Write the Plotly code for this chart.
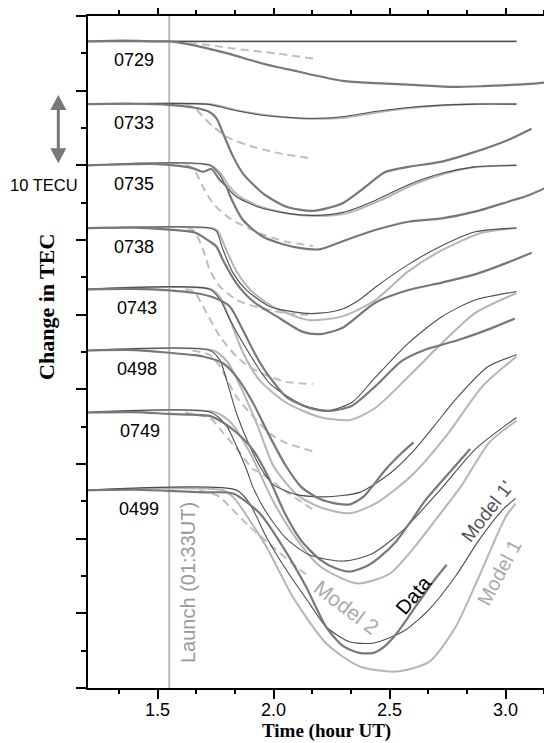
import plotly.graph_objects as go

# ---------------- data (time in hour UT, change in TEC relative to station baseline, TECU)
STATIONS = ["0729", "0733", "0735", "0738", "0743", "0498", "0749", "0499"]
BASELINE = [86.6, 78.2, 70.0, 61.6, 53.4, 45.2, 36.9, 26.5]

# 0729
DATA_T_0729 = [1.2, 1.35, 1.5, 1.55, 1.62, 1.68, 1.75, 1.825, 1.9, 2.01, 2.1, 2.17, 2.3, 2.44, 2.58, 2.7, 2.78, 2.9, 3.01, 3.1, 3.2]
DATA_V_0729 = [0, 0.1, 0, 0, -0.3, -0.7, -1.2, -1.8, -2.5, -3.4, -4.0, -4.5, -5.3, -5.6, -5.8, -6.0, -6.1, -6.0, -5.85, -5.7, -5.4]
M1P_T_0729 = [1.2, 3.047]
M1P_V_0729 = [0, 0]
M1_T_0729 = [1.2, 3.047]
M1_V_0729 = [0, 0]
M2_T_0729 = [1.58, 1.65, 1.75, 1.825, 1.92, 2.01, 2.1, 2.17]
M2_V_0729 = [0, -0.25, -0.6, -0.95, -1.3, -1.6, -2.0, -2.3]

# 0733
DATA_T_0733 = [1.2, 1.4, 1.55, 1.653, 1.675, 1.72, 1.754, 1.782, 1.825, 1.868, 1.954, 2.055, 2.169, 2.295, 2.395, 2.481, 2.581, 2.725, 2.868, 3.011, 3.112]
DATA_V_0733 = [0, 0.05, -0.1, -0.45, -0.58, -1.0, -1.9, -3.9, -7.0, -9.3, -11.95, -13.75, -14.3, -13.3, -11.1, -9.1, -8.4, -7.7, -6.4, -4.8, -3.3]
M1P_T_0733 = [1.2, 1.711, 1.768, 1.84, 1.983, 2.126, 2.2, 2.295, 2.438, 2.581, 2.725, 2.868, 3.047]
M1P_V_0733 = [0, 0, -0.36, -0.9, -1.6, -1.9, -1.9, -1.7, -1.0, -0.45, -0.13, 0, 0]
M1_T_0733 = [1.2, 1.72, 1.78, 1.85, 2.0, 2.14, 2.22, 2.32, 2.46, 2.6, 2.74, 2.88, 3.047]
M1_V_0733 = [0, 0, -0.33, -0.88, -1.6, -1.95, -1.95, -1.75, -1.05, -0.5, -0.15, 0, 0]
M2_T_0733 = [1.62, 1.66, 1.689, 1.739, 1.811, 1.911, 2.026, 2.169]
M2_V_0733 = [0, -0.5, -1.47, -3.0, -4.6, -5.7, -6.6, -7.3]

# 0735
DATA_T_0735 = [1.2, 1.5, 1.6, 1.653, 1.696, 1.732, 1.768, 1.797, 1.811, 1.868, 1.954, 2.083, 2.198, 2.295, 2.438, 2.581, 2.725, 2.868, 3.011, 3.1, 3.183]
DATA_V_0735 = [0, 0.17, -0.1, -0.4, -0.86, -0.5, -1.97, -2.87, -4.0, -7.33, -9.56, -10.9, -11.25, -10.2, -8.67, -7.55, -7.1, -6.2, -4.87, -4.0, -2.87]
M1P_T_0735 = [1.2, 1.725, 1.768, 1.797, 1.84, 1.926, 2.055, 2.169, 2.3, 2.438, 2.581, 2.725, 2.868, 3.047]
M1P_V_0735 = [0, 0, -1.3, -2.86, -4.2, -5.5, -6.4, -6.7, -6.3, -4.7, -2.6, -1.07, -0.2, 0]
M1_T_0735 = [1.2, 1.73, 1.775, 1.805, 1.85, 1.94, 2.07, 2.19, 2.32, 2.46, 2.6, 2.74, 2.88, 3.047]
M1_V_0735 = [0, 0, -1.2, -2.7, -4.1, -5.5, -6.5, -6.8, -6.4, -4.7, -2.6, -1.1, -0.2, 0]
M2_T_0735 = [1.62, 1.653, 1.696, 1.739, 1.811, 1.94, 2.05, 2.169]
M2_V_0735 = [0, -0.4, -2.9, -5.1, -7.1, -9.1, -10.2, -10.8]

# 0738
DATA_T_0738 = [1.2, 1.4, 1.55, 1.66, 1.725, 1.754, 1.782, 1.84, 1.911, 2.012, 2.126, 2.2, 2.295, 2.438, 2.581, 2.725, 2.868, 3.011, 3.112]
DATA_V_0738 = [0, 0.05, -0.2, -0.6, -1.8, -2.5, -4.3, -7.4, -9.8, -11.8, -13.9, -14.2, -13.4, -10.0, -8.3, -7.3, -6.2, -4.6, -3.3]
M1P_T_0738 = [1.2, 1.725, 1.754, 1.782, 1.825, 1.883, 1.983, 2.126, 2.2, 2.3, 2.37, 2.44, 2.58, 2.71, 2.87, 3.047]
M1P_V_0738 = [0, 0, -0.45, -2.9, -6.0, -8.3, -10.5, -11.4, -11.4, -10.8, -9.6, -7.9, -4.9, -2.6, -0.5, 0]
M1_T_0738 = [1.2, 1.73, 1.76, 1.79, 1.84, 1.9, 2.0, 2.15, 2.3, 2.44, 2.58, 2.73, 2.9, 3.047]
M1_V_0738 = [0, 0, -0.4, -2.5, -5.8, -8.3, -10.6, -12.3, -11.8, -9.6, -5.8, -2.9, -0.6, 0]
M2_T_0738 = [1.63, 1.66, 1.696, 1.725, 1.768, 1.84, 1.94, 2.05, 2.169]
M2_V_0738 = [0, -0.45, -2.9, -5.6, -7.8, -9.6, -10.7, -11.4, -11.7]

# 0743
DATA_T_0743 = [1.2, 1.4, 1.55, 1.66, 1.739, 1.811, 1.868, 1.926, 1.97, 2.055, 2.155, 2.24, 2.338, 2.438, 2.553, 2.653, 2.796, 2.94, 3.04]
DATA_V_0743 = [0, 0.05, -0.15, -0.5, -1.07, -2.3, -5.5, -9.0, -11.2, -14.4, -15.9, -16.3, -15.6, -13.0, -9.6, -8.1, -6.8, -5.2, -3.9]
M1P_T_0743 = [1.2, 1.725, 1.77, 1.811, 1.868, 1.983, 2.126, 2.24, 2.34, 2.438, 2.581, 2.725, 2.868, 3.047]
M1P_V_0743 = [0, 0, -1.43, -4.0, -7.2, -12.6, -15.5, -16.2, -15.1, -11.8, -7.2, -3.67, -1.43, -0.3]
M1_T_0743 = [1.2, 1.73, 1.768, 1.811, 1.868, 1.94, 2.055, 2.198, 2.33, 2.438, 2.581, 2.725, 2.868, 3.047]
M1_V_0743 = [0, 0, -1.0, -4.0, -8.5, -12.2, -15.2, -17.1, -17.5, -15.9, -11.7, -7.24, -3.2, -0.5]
M2_T_0743 = [1.62, 1.657, 1.696, 1.768, 1.84, 1.897, 1.983, 2.055, 2.169]
M2_V_0743 = [0, -0.3, -2.3, -6.3, -9.0, -10.4, -11.7, -12.4, -12.7]

# 0498
DATA_T_0498 = [1.2, 1.4, 1.55, 1.65, 1.696, 1.782, 1.84, 1.911, 1.98, 2.05, 2.12, 2.2, 2.27, 2.33, 2.39, 2.481, 2.553, 2.603]
DATA_V_0498 = [0, 0.05, -0.3, -0.6, -0.8, -1.7, -3.5, -7.0, -11.3, -15.3, -18.3, -19.9, -20.5, -20.6, -19.5, -16.0, -13.7, -12.3]
M1P_T_0498 = [1.2, 1.725, 1.768, 1.797, 1.84, 1.897, 1.954, 2.0, 2.1, 2.22, 2.37, 2.5, 2.61, 2.7, 2.78, 2.925, 3.047]
M1P_V_0498 = [0, 0, -1.25, -3.9, -8.4, -12.8, -16.2, -18.0, -19.3, -19.6, -19.0, -16.5, -13.2, -9.8, -6.7, -2.14, -0.58]
M1_T_0498 = [1.2, 1.74, 1.8, 1.86, 1.93, 2.0, 2.1, 2.2, 2.33, 2.45, 2.6, 2.75, 2.9, 3.047]
M1_V_0498 = [0, 0, -1.5, -5.0, -10.0, -15.5, -19.3, -21.0, -21.8, -20.3, -16.6, -11.2, -4.8, -0.8]
M2_T_0498 = [1.65, 1.725, 1.768, 1.84, 1.911, 1.983, 2.055, 2.169]
M2_V_0498 = [0, -0.6, -2.1, -6.2, -8.8, -11.1, -12.4, -13.5]

# 0749
DATA_T_0749 = [1.2, 1.4, 1.55, 1.65, 1.725, 1.782, 1.84, 1.911, 1.98, 2.05, 2.12, 2.2, 2.27, 2.33, 2.4, 2.46, 2.53, 2.6, 2.653, 2.725, 2.847]
DATA_V_0749 = [0, 0.05, -0.2, -0.3, -0.45, -1.34, -2.68, -5.0, -8.8, -13.6, -17.2, -19.7, -20.9, -21.3, -20.6, -19.3, -17.2, -14.2, -11.8, -9.2, -4.9]
M1P_T_0749 = [1.2, 1.73, 1.797, 1.84, 1.883, 1.911, 1.969, 2.055, 2.155, 2.3, 2.42, 2.55, 2.72, 2.87, 3.047]
M1P_V_0749 = [0, 0, -1.8, -4.5, -7.6, -10.0, -13.4, -16.9, -19.1, -19.9, -19.0, -16.0, -10.3, -4.9, -0.67]
M1_T_0749 = [1.2, 1.75, 1.82, 1.9, 2.0, 2.1, 2.2, 2.36, 2.5, 2.6, 2.7, 2.81, 2.93, 3.047]
M1_V_0749 = [0, 0, -1.5, -5.5, -12.0, -17.0, -20.6, -22.9, -21.6, -18.3, -14.3, -9.8, -4.0, -1.1]
M2_T_0749 = [1.62, 1.66, 1.725, 1.782, 1.854, 1.911, 1.94, 2.04, 2.169]
M2_V_0749 = [0, -0.3, -0.7, -2.7, -5.36, -7.6, -8.0, -10.3, -13.0]

# 0499
DATA_T_0499 = [1.2, 1.4, 1.55, 1.7, 1.825, 1.94, 2.04, 2.14, 2.226, 2.3, 2.37, 2.43, 2.48, 2.53, 2.581, 2.682, 2.746]
DATA_V_0499 = [0, 0.05, -0.1, -0.3, -0.45, -3.1, -7.6, -12.95, -18.3, -20.9, -21.8, -21.8, -20.9, -19.2, -17.0, -12.5, -10.0]
M1P_T_0499 = [1.2, 1.84, 1.897, 1.969, 2.055, 2.155, 2.226, 2.327, 2.427, 2.513, 2.57, 2.67, 2.785, 2.885, 2.985, 3.043]
M1P_V_0499 = [0, 0, -1.8, -6.3, -10.7, -15.2, -18.3, -20.3, -20.5, -19.6, -18.7, -16.0, -11.5, -6.7, -2.7, -1.1]
M1_T_0499 = [1.2, 1.78, 1.825, 1.969, 2.083, 2.226, 2.37, 2.527, 2.67, 2.785, 2.885, 3.0, 3.043]
M1_V_0499 = [0, 0, -0.9, -7.6, -14.3, -20.5, -23.6, -24.3, -23.0, -18.3, -11.6, -3.6, -1.8]
M2_T_0499 = [1.68, 1.768, 1.797, 1.897, 2.012, 2.098, 2.155]
M2_V_0499 = [0, -0.9, -1.78, -4.9, -8.0, -10.3, -11.6]

LAUNCH_TIME = 1.55
X_TICKS = [1.5, 2.0, 2.5, 3.0]
X_TICK_TEXT = ["1.5", "2.0", "2.5", "3.0"]

g = globals()
DATA = {s: (g["DATA_T_" + s], g["DATA_V_" + s]) for s in STATIONS}
M1P = {s: (g["M1P_T_" + s], g["M1P_V_" + s]) for s in STATIONS}
M1 = {s: (g["M1_T_" + s], g["M1_V_" + s]) for s in STATIONS}
M2 = {s: (g["M2_T_" + s], g["M2_V_" + s]) for s in STATIONS}

C_DATA = "#787878"
C_M1P = "#4d4d4d"
C_M1 = "#b5b5b5"
C_M2 = "#bdbdbd"

fig = go.Figure()


def add(series, color, width, dash="solid"):
    for s, base in zip(STATIONS, BASELINE):
        t, v = series[s]
        fig.add_trace(go.Scatter(
            x=t, y=[base + d for d in v], mode="lines",
            line=dict(color=color, width=width, dash=dash, shape="spline", smoothing=0.7),
            hoverinfo="skip", showlegend=False))


add(M1, C_M1, 2.0)
add(M2, C_M2, 2.0, "8px,5px")
add(M1P, C_M1P, 1.1)
add(DATA, C_DATA, 2.2)

# dummy trace so the top axis is drawn
fig.add_trace(go.Scatter(x=[1.5], y=[None], xaxis="x2", mode="lines", showlegend=False, hoverinfo="skip"))

axis_common = dict(
    range=[1.2, 3.2], tickvals=X_TICKS, ticks="outside", ticklen=9, tickwidth=1.5,
    tickcolor="black", showline=True, linecolor="black", linewidth=2,
    showgrid=False, zeroline=False, showticklabels=False,
    minor=dict(tick0=1.5, dtick=1 / 6, ticks="outside", ticklen=4, tickwidth=1.5, tickcolor="black"),
)

# the page body adds an 8 px margin, so the figure is 8 px smaller than the window
fig.update_layout(
    width=544, height=735,
    margin=dict(l=80, r=0, t=8, b=55),
    plot_bgcolor="white", paper_bgcolor="white",
    font=dict(family="Liberation Sans, Arial, sans-serif", size=18, color="black"),
    showlegend=False,
    xaxis=dict(**axis_common),
    xaxis2=dict(**axis_common, overlaying="x", side="top", matches="x"),
    yaxis=dict(range=[0, 90], tickvals=list(range(0, 91, 10)), ticks="outside", ticklen=10,
               tickwidth=1.5, tickcolor="black", showticklabels=False, showline=True,
               linecolor="black", linewidth=2, showgrid=False, zeroline=False,
               minor=dict(tickvals=list(range(5, 90, 10)), ticks="outside", ticklen=5,
                          tickwidth=1.5, tickcolor="black")),
)

# launch line and right border
fig.add_shape(type="line", xref="x", yref="paper", x0=LAUNCH_TIME, x1=LAUNCH_TIME, y0=0, y1=1,
              line=dict(color="#bbbbbb", width=2), layer="below")
fig.add_shape(type="line", xref="paper", yref="paper", x0=0.9975, x1=0.9975, y0=0, y1=1,
              line=dict(color="#d0d0d0", width=1))

# 10 TECU scale arrow
ax = -0.064
hw = 8 / 464
fig.add_shape(type="line", xref="paper", yref="y", x0=ax, x1=ax, y0=77.6, y1=72.1,
              line=dict(color="#777777", width=3))
fig.add_shape(type="path", xref="paper", yref="y",
              path=f"M {ax} 79.42 L {ax - hw} 77.41 L {ax + hw} 77.41 Z",
              fillcolor="#777777", line=dict(width=0))
fig.add_shape(type="path", xref="paper", yref="y",
              path=f"M {ax} 70.27 L {ax - hw} 72.28 L {ax + hw} 72.28 Z",
              fillcolor="#777777", line=dict(width=0))


def note(x, y, text, xref="x", yref="y", angle=0, size=18, color="black", family=None):
    font = dict(size=size, color=color)
    if family:
        font["family"] = family
    fig.add_annotation(x=x, y=y, xref=xref, yref=yref, text=text, textangle=angle,
                       showarrow=False, xanchor="center", yanchor="middle", font=font)


# x tick labels (placed as text so they sit where the reference has them)
for tv, tt in zip(X_TICKS, X_TICK_TEXT):
    note(tv, -0.0327, tt, yref="paper", size=18)

# station labels
LABEL_X = [1.398, 1.398, 1.398, 1.398, 1.41, 1.41, 1.424, 1.421]
for s, base, lx in zip(STATIONS, BASELINE, LABEL_X):
    note(lx, base - 2.5, s)

note(-0.094, 67.4, "10 TECU", xref="paper", size=16.5)
note(1.628, 14.1, "Launch (01:33UT)", angle=-90, size=20, color="#999999")
note(2.316, 10.78, "Model 2", angle=37, size=21, color="#aaaaaa")
note(2.603, 12.46, "Data", angle=-50, size=20)
note(2.921, 23.6, "Model 1'", angle=-52, size=19, color="#555555")
note(2.975, 15.47, "Model 1", angle=-62, size=20, color="#aaaaaa")

SERIF = "Liberation Serif, Times New Roman, serif"
note(0.515, -0.0640, "<b>Time (hour UT)</b>", xref="paper", yref="paper", size=19, family=SERIF)
note(-0.0884, 0.567, "<b>Change in TEC</b>", xref="paper", yref="paper", angle=-90, size=22, family=SERIF)

fig.write_html("out.html")
